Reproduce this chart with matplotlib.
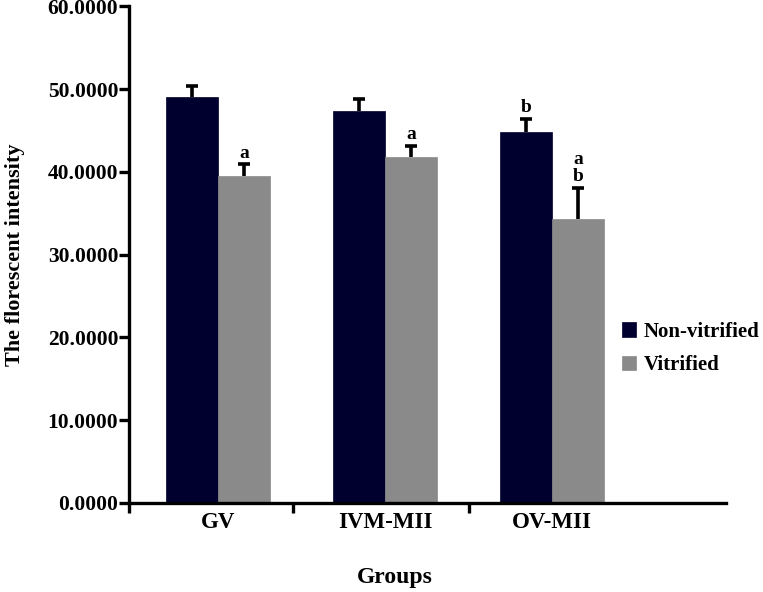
import matplotlib
matplotlib.use("Agg")
import matplotlib.pyplot as plt
import numpy as np

plt.rcParams["font.family"] = ["Liberation Serif", "DejaVu Serif"]
plt.rcParams["font.weight"] = "bold"

groups = ["GV", "IVM-MII", "OV-MII"]
series = ["Non-vitrified", "Vitrified"]
non_vit = [49.1, 47.4, 44.8]
non_vit_err = [1.3, 1.4, 1.6]
vit = [39.5, 41.8, 34.3]
vit_err = [1.4, 1.3, 3.8]
non_vit_sig = ["", "", "b"]
vit_sig = ["a", "a", "a\nb"]

DARK = "#00002e"
GREY = "#8a8a8a"

fig = plt.figure(figsize=(7.63, 5.92), dpi=100)
ax = fig.add_axes([0.1697, 0.1508, 0.7818, 0.8383])

x = np.arange(len(groups))
w = 0.311

ax.bar(x - w / 2, non_vit, w, color=DARK, edgecolor=DARK, linewidth=0.5, label=series[0], zorder=2)
ax.bar(x + w / 2, vit, w, color=GREY, edgecolor=GREY, linewidth=0.5, label=series[1], zorder=2)


def upper_err(xs, vals, errs):
    # only the upper half of the error bar, as in the original
    vals = np.asarray(vals)
    errs = np.asarray(errs)
    ax.vlines(xs, vals, vals + errs, color="black", linewidth=2.6, zorder=3)
    ax.plot(xs, vals + errs, ls="none", marker="_", markersize=8.5,
            markeredgewidth=2.6, color="black", zorder=3)


upper_err(x - w / 2, non_vit, non_vit_err)
upper_err(x + w / 2, vit, vit_err)

for xi, v, e, s in zip(x - w / 2, non_vit, non_vit_err, non_vit_sig):
    if s:
        ax.annotate(s, xy=(xi, v + e), xytext=(0, 2), textcoords="offset points",
                    ha="center", va="bottom", fontsize=14, fontweight="bold", linespacing=0.95)
for xi, v, e, s in zip(x + w / 2, vit, vit_err, vit_sig):
    if s:
        ax.annotate(s, xy=(xi, v + e), xytext=(0, 2), textcoords="offset points",
                    ha="center", va="bottom", fontsize=14, fontweight="bold", linespacing=0.95)

ax.set_ylim(0, 60)
ax.set_xlim(-0.53, 3.04)
ax.set_yticks(np.arange(0, 61, 10))
ax.set_yticklabels(["%.4f" % v for v in np.arange(0, 61, 10)], fontsize=15.5, fontweight="bold")

# group boundary ticks, labels at group centres
ax.set_xticks([-0.53, 0.45, 1.5])
ax.set_xticklabels(["", "", ""])
ax.set_xticks(x, minor=True)
ax.set_xticklabels(groups, minor=True, fontsize=16.5, fontweight="bold")
ax.tick_params(axis="x", which="minor", length=0, pad=7)
ax.tick_params(axis="x", which="major", length=7, width=2.4, direction="out")
ax.tick_params(axis="y", length=7, width=2.4, pad=1)

for sp in ["top", "right"]:
    ax.spines[sp].set_visible(False)
for sp in ["left", "bottom"]:
    ax.spines[sp].set_linewidth(2.4)

ax.set_ylabel("The florescent intensity", fontsize=16, fontweight="bold")
ax.yaxis.set_label_coords(-0.192, 0.5)
ax.yaxis.label.set_va("center")
ax.set_xlabel("Groups", fontsize=17, fontweight="bold")
ax.xaxis.set_label_coords(0.445, -0.15)
ax.xaxis.label.set_va("center")

ax.legend(loc="center left", bbox_to_anchor=(0.815, 0.411), bbox_transform=fig.transFigure,
          frameon=False, handlelength=0.7, handleheight=0.7,
          handletextpad=0.35, labelspacing=0.65, borderpad=0, borderaxespad=0,
          prop={"weight": "bold", "size": 15})

fig.savefig("out.png", dpi=100)
